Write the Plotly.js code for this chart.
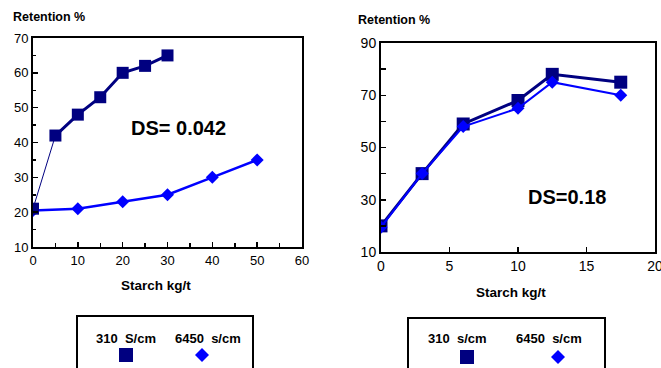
<!DOCTYPE html>
<html><head><meta charset="utf-8">
<script src="https://cdn.plot.ly/plotly-3.0.1.min.js"></script>
<style>html,body{margin:0;padding:0;background:#fff}</style>
</head><body><div id="chart" style="width:661px;height:368px"></div>
<script>
// Left chart (DS = 0.042)
const leftX310 = [0, 5, 10, 15, 20, 25, 30];
const leftY310 = [21, 42, 48, 53, 60, 62, 65];
const leftX6450 = [0, 10, 20, 30, 40, 50];
const leftY6450 = [20.5, 21, 23, 25, 30, 35];
// Right chart (DS = 0.18)
const rightX310 = [0, 3, 6, 10, 12.5, 17.5];
const rightY310 = [20, 40, 59, 68, 78, 75];
const rightX6450 = [0, 3, 6, 10, 12.5, 17.5];
const rightY6450 = [19.5, 40, 58, 65, 75, 70];
const seriesNames = ['310 S/cm', '6450 s/cm'];

const NAVY = '#000080', BLUE = '#0000FF';
const FONT = 'Liberation Sans, Arial, sans-serif';
const W = 661, H = 368;
const px = v => v / W, py = v => 1 - v / H;

const traces = [
  // thin first segment of 310 series
  {x: leftX310.slice(0, 2), y: leftY310.slice(0, 2), xaxis: 'x', yaxis: 'y', mode: 'lines',
   line: {color: NAVY, width: 1}, hoverinfo: 'skip'},
  {x: leftX310.slice(1), y: leftY310.slice(1), xaxis: 'x', yaxis: 'y', mode: 'lines',
   line: {color: NAVY, width: 3}, hoverinfo: 'skip'},
  {x: leftX6450, y: leftY6450, xaxis: 'x', yaxis: 'y', mode: 'lines+markers', name: seriesNames[1],
   line: {color: BLUE, width: 2.5}, marker: {symbol: 'diamond', size: 10, color: BLUE}},
  {x: leftX310, y: leftY310, xaxis: 'x', yaxis: 'y', mode: 'markers', name: seriesNames[0],
   marker: {symbol: 'square', size: 12, color: NAVY}},
  {x: rightX310, y: rightY310, xaxis: 'x2', yaxis: 'y2', mode: 'lines+markers', name: seriesNames[0],
   line: {color: NAVY, width: 3}, marker: {symbol: 'square', size: 13, color: NAVY}},
  {x: rightX6450, y: rightY6450, xaxis: 'x2', yaxis: 'y2', mode: 'lines+markers', name: seriesNames[1],
   line: {color: BLUE, width: 2}, marker: {symbol: 'diamond', size: 10, color: BLUE}}
];

function ax(extra) {
  return Object.assign({
    showline: true, mirror: true, linecolor: '#000', linewidth: 2,
    showgrid: false, zeroline: false, ticks: 'inside', ticklen: 5, tickcolor: '#000', tickwidth: 1.5,
    fixedrange: true, ticklabeloverflow: 'allow'
  }, extra);
}

function sqPath(cx, cy, s) {
  const h = s / 2;
  return `M${px(cx - h)},${py(cy - h)} L${px(cx + h)},${py(cy - h)} L${px(cx + h)},${py(cy + h)} L${px(cx - h)},${py(cy + h)} Z`;
}
function dmPath(cx, cy, s) {
  const h = s / 2;
  return `M${px(cx)},${py(cy - h)} L${px(cx + h)},${py(cy)} L${px(cx)},${py(cy + h)} L${px(cx - h)},${py(cy)} Z`;
}

function note(text, x, y, size, anchor) {
  return {text: text, xref: 'paper', yref: 'paper', x: px(x), y: py(y), xanchor: anchor || 'center',
          yanchor: 'middle', showarrow: false, font: {size: size}};
}

const layout = {
  width: W, height: H, margin: {l: 0, r: 0, t: 0, b: 0},
  paper_bgcolor: '#fff', plot_bgcolor: '#fff', showlegend: false,
  font: {family: FONT, color: '#000'},
  xaxis: ax({domain: [px(33), px(302)], range: [0, 60], tickvals: [0, 10, 20, 30, 40, 50, 60],
    minor: {tickvals: [5, 15, 25, 35, 45, 55], ticks: 'inside', ticklen: 4, tickcolor: '#000'},
    tickfont: {size: 13, family: FONT}, anchor: 'y'}),
  yaxis: ax({domain: [1 - 247 / H, 1 - 38 / H], range: [10, 70], tickvals: [10, 20, 30, 40, 50, 60, 70],
    minor: {tickvals: [15, 25, 35, 45, 55, 65], ticks: 'inside', ticklen: 3, tickcolor: '#000'},
    tickfont: {size: 13, family: FONT}, anchor: 'x'}),
  xaxis2: ax({domain: [px(381), px(655)], range: [0, 20], tickvals: [0, 5, 10, 15, 20],
    tickfont: {size: 14, family: FONT}, anchor: 'y2'}),
  yaxis2: ax({domain: [1 - 252 / H, 1 - 43 / H], range: [10, 90], tickvals: [10, 30, 50, 70, 90],
    minor: {tickvals: [20, 40, 60, 80], ticks: 'inside', ticklen: 5, tickcolor: '#000'},
    tickfont: {size: 14, family: FONT}, anchor: 'x2'}),
  annotations: [
    note('<b>Retention %</b>', 11, 17, 12.5, 'left'),
    note('<b>Retention %</b>', 356, 20, 12.5, 'left'),
    note('<b>Starch kg/t</b>', 156, 285, 13.5),
    note('<b>Starch kg/t</b>', 511, 292, 13.5),
    note('<b>DS= 0.042</b>', 178, 128, 20),
    note('<b>DS=0.18</b>', 567, 197, 20),
    note('<b>310  S/cm</b>', 126, 338, 13),
    note('<b>6450  s/cm</b>', 208, 338, 13),
    note('<b>310  s/cm</b>', 457, 338, 13),
    note('<b>6450  s/cm</b>', 549, 338, 13)
  ],
  shapes: [
    {type: 'rect', xref: 'paper', yref: 'paper', x0: px(77), x1: px(253), y0: py(380), y1: py(316), line: {color: '#000', width: 2}},
    {type: 'rect', xref: 'paper', yref: 'paper', x0: px(408), x1: px(605), y0: py(380), y1: py(318), line: {color: '#000', width: 2}},
    {type: 'path', xref: 'paper', yref: 'paper', path: sqPath(126, 355, 14), fillcolor: NAVY, line: {width: 0}},
    {type: 'path', xref: 'paper', yref: 'paper', path: dmPath(202, 355, 14), fillcolor: BLUE, line: {width: 0}},
    {type: 'path', xref: 'paper', yref: 'paper', path: sqPath(467, 357, 14), fillcolor: NAVY, line: {width: 0}},
    {type: 'path', xref: 'paper', yref: 'paper', path: dmPath(558, 357, 14), fillcolor: BLUE, line: {width: 0}}
  ]
};

Plotly.newPlot('chart', traces, layout, {displayModeBar: false, staticPlot: true});
</script></body></html>
